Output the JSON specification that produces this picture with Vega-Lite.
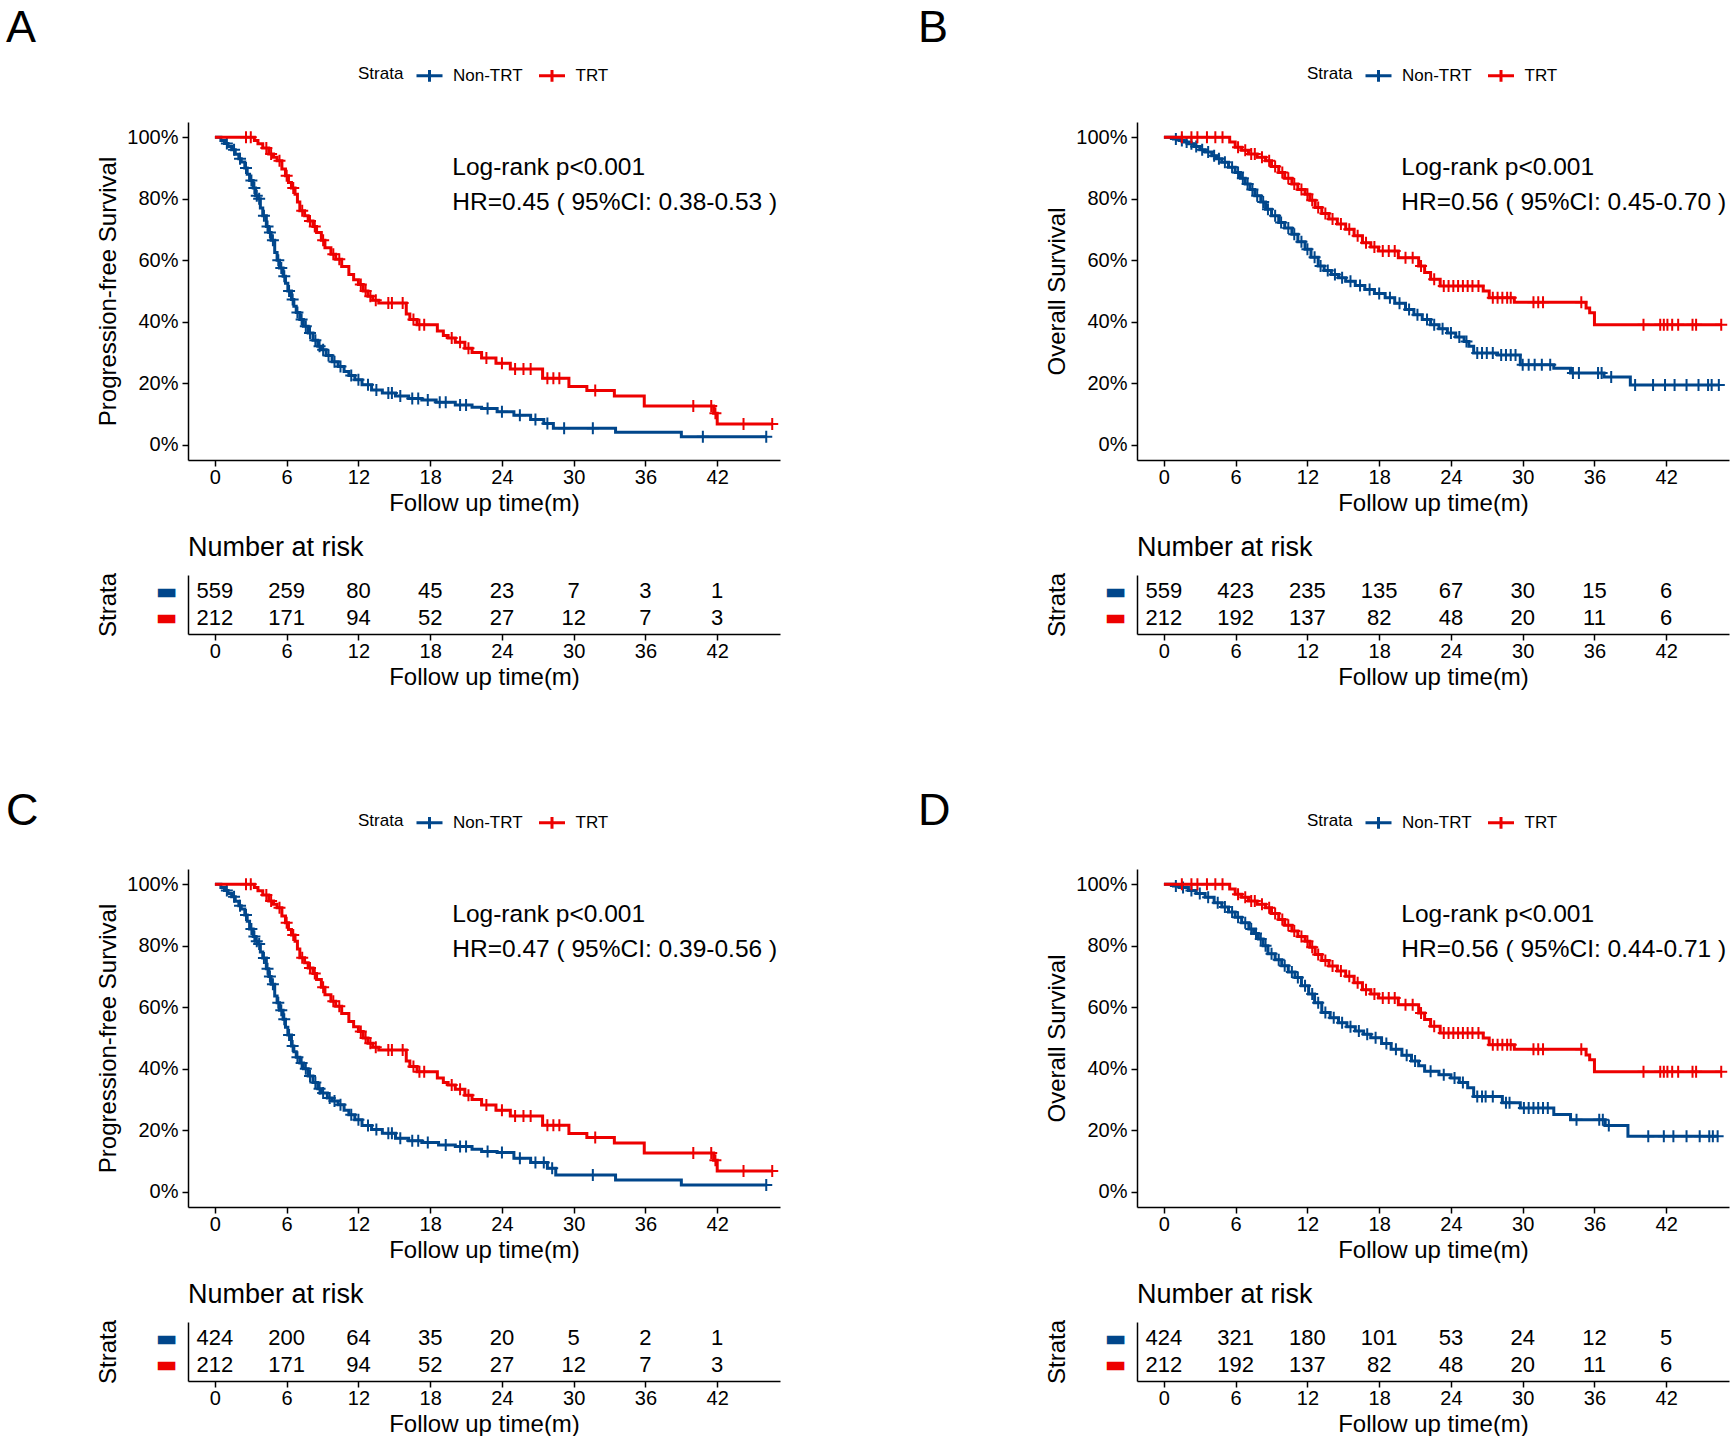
{
"$schema": "https://vega.github.io/schema/vega-lite/v6.json",
"padding": {"left": 6, "top": 6, "right": 0, "bottom": 0},
"autosize": {"type": "pad"},
"background": "white",
"config": {
 "view": {"stroke": null},
 "font": "Liberation Sans",
 "axis": {"domainColor": "#000", "domainWidth": 1.5, "tickColor": "#000", "tickWidth": 1.5, "tickSize": 6, "labelColor": "#000", "labelFontSize": 20, "labelFont": "Liberation Sans", "titleFont": "Liberation Sans", "titleFontSize": 24, "titleFontWeight": "normal", "titleColor": "#000", "grid": false, "labelPadding": 1},
 "axisX": {"titlePadding": 4},
 "axisY": {"titlePadding": 6.5, "labelPadding": 4},
 "legend": {"orient": "none", "legendX": 170, "legendY": -61, "direction": "horizontal", "titleOrient": "left", "titleAnchor": "middle", "titleBaseline": "middle", "titleFontSize": 17, "titleFontWeight": "normal", "titleColor": "#000", "labelFontSize": 17, "labelColor": "#000", "labelFont": "Liberation Sans", "titleFont": "Liberation Sans", "symbolSize": 676, "symbolStrokeWidth": 3, "labelOffset": 9, "columnPadding": 9.5, "titlePadding": 11},
 "title": {"fontWeight": "normal", "color": "#000", "font": "Liberation Sans"},
 "text": {"font": "Liberation Sans"}
},
"datasets": {
 "pfs_trt": [
  {"t":0,"s":1.0,"g":"TRT","c":0},{"t":2.6,"s":1.0,"g":"TRT","c":1},{"t":3.0,"s":1.0,"g":"TRT","c":1},{"t":3.3,"s":0.99,"g":"TRT","c":0},{"t":3.6,"s":0.979,"g":"TRT","c":0},{"t":4.0,"s":0.965,"g":"TRT","c":0},{"t":4.3,"s":0.965,"g":"TRT","c":1},{"t":4.5,"s":0.946,"g":"TRT","c":0},{"t":4.7,"s":0.946,"g":"TRT","c":1},{"t":4.9,"s":0.935,"g":"TRT","c":0},{"t":5.2,"s":0.924,"g":"TRT","c":0},{"t":5.4,"s":0.924,"g":"TRT","c":1},{"t":5.6,"s":0.897,"g":"TRT","c":0},{"t":5.9,"s":0.875,"g":"TRT","c":0},{"t":6.0,"s":0.875,"g":"TRT","c":1},{"t":6.15,"s":0.853,"g":"TRT","c":0},{"t":6.4,"s":0.835,"g":"TRT","c":0},{"t":6.55,"s":0.835,"g":"TRT","c":1},{"t":6.7,"s":0.815,"g":"TRT","c":0},{"t":6.9,"s":0.79,"g":"TRT","c":0},{"t":7.1,"s":0.761,"g":"TRT","c":0},{"t":7.3,"s":0.761,"g":"TRT","c":1},{"t":7.5,"s":0.745,"g":"TRT","c":0},{"t":7.8,"s":0.728,"g":"TRT","c":0},{"t":7.95,"s":0.728,"g":"TRT","c":1},{"t":8.2,"s":0.71,"g":"TRT","c":0},{"t":8.35,"s":0.71,"g":"TRT","c":1},{"t":8.5,"s":0.69,"g":"TRT","c":0},{"t":8.9,"s":0.665,"g":"TRT","c":0},{"t":9.05,"s":0.665,"g":"TRT","c":1},{"t":9.2,"s":0.641,"g":"TRT","c":0},{"t":9.7,"s":0.62,"g":"TRT","c":0},{"t":9.9,"s":0.62,"g":"TRT","c":1},{"t":10.1,"s":0.603,"g":"TRT","c":0},{"t":10.4,"s":0.603,"g":"TRT","c":1},{"t":10.6,"s":0.58,"g":"TRT","c":0},{"t":11.2,"s":0.554,"g":"TRT","c":0},{"t":11.6,"s":0.537,"g":"TRT","c":0},{"t":12.0,"s":0.521,"g":"TRT","c":0},{"t":12.2,"s":0.521,"g":"TRT","c":1},{"t":12.4,"s":0.5,"g":"TRT","c":0},{"t":12.6,"s":0.5,"g":"TRT","c":1},{"t":12.8,"s":0.483,"g":"TRT","c":0},{"t":13.0,"s":0.483,"g":"TRT","c":1},{"t":13.2,"s":0.47,"g":"TRT","c":0},{"t":13.45,"s":0.47,"g":"TRT","c":1},{"t":13.7,"s":0.461,"g":"TRT","c":0},{"t":14.5,"s":0.461,"g":"TRT","c":1},{"t":14.8,"s":0.461,"g":"TRT","c":1},{"t":15.7,"s":0.461,"g":"TRT","c":1},{"t":16.0,"s":0.425,"g":"TRT","c":0},{"t":16.3,"s":0.407,"g":"TRT","c":0},{"t":16.6,"s":0.407,"g":"TRT","c":1},{"t":16.9,"s":0.39,"g":"TRT","c":0},{"t":17.1,"s":0.39,"g":"TRT","c":1},{"t":17.5,"s":0.39,"g":"TRT","c":1},{"t":18.6,"s":0.37,"g":"TRT","c":0},{"t":19.1,"s":0.355,"g":"TRT","c":0},{"t":19.5,"s":0.347,"g":"TRT","c":0},{"t":19.8,"s":0.347,"g":"TRT","c":1},{"t":20.1,"s":0.333,"g":"TRT","c":0},{"t":20.5,"s":0.333,"g":"TRT","c":1},{"t":20.9,"s":0.314,"g":"TRT","c":0},{"t":21.2,"s":0.314,"g":"TRT","c":1},{"t":21.5,"s":0.3,"g":"TRT","c":0},{"t":22.3,"s":0.282,"g":"TRT","c":0},{"t":22.7,"s":0.282,"g":"TRT","c":1},{"t":23.5,"s":0.265,"g":"TRT","c":0},{"t":24.0,"s":0.265,"g":"TRT","c":1},{"t":24.7,"s":0.246,"g":"TRT","c":0},{"t":25.1,"s":0.246,"g":"TRT","c":1},{"t":25.8,"s":0.246,"g":"TRT","c":1},{"t":26.4,"s":0.246,"g":"TRT","c":1},{"t":27.4,"s":0.216,"g":"TRT","c":0},{"t":27.8,"s":0.216,"g":"TRT","c":1},{"t":28.3,"s":0.216,"g":"TRT","c":1},{"t":28.8,"s":0.216,"g":"TRT","c":1},{"t":29.6,"s":0.189,"g":"TRT","c":0},{"t":31.1,"s":0.176,"g":"TRT","c":0},{"t":31.8,"s":0.176,"g":"TRT","c":1},{"t":33.4,"s":0.158,"g":"TRT","c":0},{"t":35.9,"s":0.126,"g":"TRT","c":0},{"t":40.0,"s":0.126,"g":"TRT","c":1},{"t":41.5,"s":0.126,"g":"TRT","c":1},{"t":41.7,"s":0.102,"g":"TRT","c":0},{"t":41.85,"s":0.102,"g":"TRT","c":1},{"t":42.0,"s":0.067,"g":"TRT","c":0},{"t":44.2,"s":0.067,"g":"TRT","c":1},{"t":46.6,"s":0.067,"g":"TRT","c":1}
 ],
 "pfs_non_a": [
  {"t":0,"s":1.0,"g":"Non-TRT","c":0},{"t":0.5,"s":0.99,"g":"Non-TRT","c":0},{"t":0.8,"s":0.98,"g":"Non-TRT","c":0},{"t":1.0,"s":0.98,"g":"Non-TRT","c":1},{"t":1.1,"s":0.97,"g":"Non-TRT","c":0},{"t":1.4,"s":0.96,"g":"Non-TRT","c":0},{"t":1.6,"s":0.96,"g":"Non-TRT","c":1},{"t":1.7,"s":0.945,"g":"Non-TRT","c":0},{"t":2.0,"s":0.93,"g":"Non-TRT","c":0},{"t":2.1,"s":0.93,"g":"Non-TRT","c":1},{"t":2.2,"s":0.92,"g":"Non-TRT","c":0},{"t":2.5,"s":0.9,"g":"Non-TRT","c":0},{"t":2.6,"s":0.9,"g":"Non-TRT","c":1},{"t":2.7,"s":0.88,"g":"Non-TRT","c":0},{"t":2.9,"s":0.86,"g":"Non-TRT","c":0},{"t":3.05,"s":0.86,"g":"Non-TRT","c":1},{"t":3.2,"s":0.835,"g":"Non-TRT","c":0},{"t":3.3,"s":0.835,"g":"Non-TRT","c":1},{"t":3.4,"s":0.81,"g":"Non-TRT","c":0},{"t":3.5,"s":0.81,"g":"Non-TRT","c":1},{"t":3.6,"s":0.8,"g":"Non-TRT","c":0},{"t":3.7,"s":0.8,"g":"Non-TRT","c":1},{"t":3.8,"s":0.77,"g":"Non-TRT","c":0},{"t":4.0,"s":0.745,"g":"Non-TRT","c":0},{"t":4.1,"s":0.745,"g":"Non-TRT","c":1},{"t":4.3,"s":0.71,"g":"Non-TRT","c":0},{"t":4.4,"s":0.71,"g":"Non-TRT","c":1},{"t":4.5,"s":0.69,"g":"Non-TRT","c":0},{"t":4.6,"s":0.69,"g":"Non-TRT","c":1},{"t":4.7,"s":0.665,"g":"Non-TRT","c":0},{"t":4.85,"s":0.665,"g":"Non-TRT","c":1},{"t":5.0,"s":0.625,"g":"Non-TRT","c":0},{"t":5.2,"s":0.6,"g":"Non-TRT","c":0},{"t":5.3,"s":0.6,"g":"Non-TRT","c":1},{"t":5.4,"s":0.575,"g":"Non-TRT","c":0},{"t":5.55,"s":0.575,"g":"Non-TRT","c":1},{"t":5.7,"s":0.548,"g":"Non-TRT","c":0},{"t":5.8,"s":0.548,"g":"Non-TRT","c":1},{"t":5.9,"s":0.525,"g":"Non-TRT","c":0},{"t":6.1,"s":0.5,"g":"Non-TRT","c":0},{"t":6.2,"s":0.5,"g":"Non-TRT","c":1},{"t":6.4,"s":0.472,"g":"Non-TRT","c":0},{"t":6.5,"s":0.472,"g":"Non-TRT","c":1},{"t":6.6,"s":0.45,"g":"Non-TRT","c":0},{"t":6.8,"s":0.43,"g":"Non-TRT","c":0},{"t":6.9,"s":0.43,"g":"Non-TRT","c":1},{"t":7.1,"s":0.407,"g":"Non-TRT","c":0},{"t":7.25,"s":0.407,"g":"Non-TRT","c":1},{"t":7.4,"s":0.385,"g":"Non-TRT","c":0},{"t":7.6,"s":0.385,"g":"Non-TRT","c":1},{"t":7.8,"s":0.363,"g":"Non-TRT","c":0},{"t":7.95,"s":0.363,"g":"Non-TRT","c":1},{"t":8.2,"s":0.34,"g":"Non-TRT","c":0},{"t":8.4,"s":0.34,"g":"Non-TRT","c":1},{"t":8.6,"s":0.32,"g":"Non-TRT","c":0},{"t":8.75,"s":0.32,"g":"Non-TRT","c":1},{"t":8.9,"s":0.309,"g":"Non-TRT","c":0},{"t":9.05,"s":0.309,"g":"Non-TRT","c":1},{"t":9.3,"s":0.29,"g":"Non-TRT","c":0},{"t":9.5,"s":0.29,"g":"Non-TRT","c":1},{"t":9.8,"s":0.27,"g":"Non-TRT","c":0},{"t":10.0,"s":0.27,"g":"Non-TRT","c":1},{"t":10.3,"s":0.254,"g":"Non-TRT","c":0},{"t":10.5,"s":0.254,"g":"Non-TRT","c":1},{"t":10.8,"s":0.238,"g":"Non-TRT","c":0},{"t":11.2,"s":0.225,"g":"Non-TRT","c":0},{"t":11.4,"s":0.225,"g":"Non-TRT","c":1},{"t":11.7,"s":0.211,"g":"Non-TRT","c":0},{"t":12.0,"s":0.211,"g":"Non-TRT","c":1},{"t":12.3,"s":0.195,"g":"Non-TRT","c":0},{"t":12.8,"s":0.195,"g":"Non-TRT","c":1},{"t":13.1,"s":0.178,"g":"Non-TRT","c":0},{"t":13.5,"s":0.178,"g":"Non-TRT","c":1},{"t":14.0,"s":0.168,"g":"Non-TRT","c":0},{"t":14.5,"s":0.168,"g":"Non-TRT","c":1},{"t":14.8,"s":0.168,"g":"Non-TRT","c":1},{"t":15.1,"s":0.158,"g":"Non-TRT","c":0},{"t":15.5,"s":0.158,"g":"Non-TRT","c":1},{"t":16.2,"s":0.15,"g":"Non-TRT","c":0},{"t":16.5,"s":0.15,"g":"Non-TRT","c":1},{"t":17.0,"s":0.15,"g":"Non-TRT","c":1},{"t":17.3,"s":0.145,"g":"Non-TRT","c":0},{"t":17.8,"s":0.145,"g":"Non-TRT","c":1},{"t":18.5,"s":0.138,"g":"Non-TRT","c":0},{"t":18.8,"s":0.138,"g":"Non-TRT","c":1},{"t":19.3,"s":0.138,"g":"Non-TRT","c":1},{"t":20.1,"s":0.129,"g":"Non-TRT","c":0},{"t":20.5,"s":0.129,"g":"Non-TRT","c":1},{"t":21.0,"s":0.129,"g":"Non-TRT","c":1},{"t":21.5,"s":0.122,"g":"Non-TRT","c":0},{"t":22.3,"s":0.118,"g":"Non-TRT","c":0},{"t":22.8,"s":0.118,"g":"Non-TRT","c":1},{"t":23.6,"s":0.107,"g":"Non-TRT","c":0},{"t":24.0,"s":0.107,"g":"Non-TRT","c":1},{"t":25.0,"s":0.096,"g":"Non-TRT","c":0},{"t":25.5,"s":0.096,"g":"Non-TRT","c":1},{"t":26.4,"s":0.082,"g":"Non-TRT","c":0},{"t":26.8,"s":0.082,"g":"Non-TRT","c":1},{"t":27.5,"s":0.069,"g":"Non-TRT","c":0},{"t":27.8,"s":0.069,"g":"Non-TRT","c":1},{"t":28.3,"s":0.053,"g":"Non-TRT","c":0},{"t":29.2,"s":0.053,"g":"Non-TRT","c":1},{"t":31.6,"s":0.053,"g":"Non-TRT","c":1},{"t":33.5,"s":0.04,"g":"Non-TRT","c":0},{"t":39.0,"s":0.026,"g":"Non-TRT","c":0},{"t":40.8,"s":0.026,"g":"Non-TRT","c":1},{"t":46.1,"s":0.026,"g":"Non-TRT","c":1}
 ],
 "pfs_non_c": [
  {"t":0,"s":1.0,"g":"Non-TRT","c":0},{"t":0.5,"s":0.99,"g":"Non-TRT","c":0},{"t":0.8,"s":0.98,"g":"Non-TRT","c":0},{"t":1.0,"s":0.98,"g":"Non-TRT","c":1},{"t":1.1,"s":0.97,"g":"Non-TRT","c":0},{"t":1.4,"s":0.96,"g":"Non-TRT","c":0},{"t":1.6,"s":0.96,"g":"Non-TRT","c":1},{"t":1.7,"s":0.945,"g":"Non-TRT","c":0},{"t":2.0,"s":0.93,"g":"Non-TRT","c":0},{"t":2.1,"s":0.93,"g":"Non-TRT","c":1},{"t":2.2,"s":0.92,"g":"Non-TRT","c":0},{"t":2.5,"s":0.9,"g":"Non-TRT","c":0},{"t":2.6,"s":0.9,"g":"Non-TRT","c":1},{"t":2.7,"s":0.88,"g":"Non-TRT","c":0},{"t":2.9,"s":0.855,"g":"Non-TRT","c":0},{"t":3.05,"s":0.855,"g":"Non-TRT","c":1},{"t":3.2,"s":0.83,"g":"Non-TRT","c":0},{"t":3.3,"s":0.83,"g":"Non-TRT","c":1},{"t":3.4,"s":0.815,"g":"Non-TRT","c":0},{"t":3.5,"s":0.815,"g":"Non-TRT","c":1},{"t":3.6,"s":0.806,"g":"Non-TRT","c":0},{"t":3.7,"s":0.806,"g":"Non-TRT","c":1},{"t":3.8,"s":0.78,"g":"Non-TRT","c":0},{"t":4.0,"s":0.76,"g":"Non-TRT","c":0},{"t":4.1,"s":0.76,"g":"Non-TRT","c":1},{"t":4.3,"s":0.725,"g":"Non-TRT","c":0},{"t":4.4,"s":0.725,"g":"Non-TRT","c":1},{"t":4.5,"s":0.7,"g":"Non-TRT","c":0},{"t":4.6,"s":0.7,"g":"Non-TRT","c":1},{"t":4.7,"s":0.675,"g":"Non-TRT","c":0},{"t":4.85,"s":0.675,"g":"Non-TRT","c":1},{"t":5.0,"s":0.637,"g":"Non-TRT","c":0},{"t":5.2,"s":0.615,"g":"Non-TRT","c":0},{"t":5.3,"s":0.615,"g":"Non-TRT","c":1},{"t":5.4,"s":0.59,"g":"Non-TRT","c":0},{"t":5.55,"s":0.59,"g":"Non-TRT","c":1},{"t":5.7,"s":0.561,"g":"Non-TRT","c":0},{"t":5.8,"s":0.561,"g":"Non-TRT","c":1},{"t":5.9,"s":0.535,"g":"Non-TRT","c":0},{"t":6.1,"s":0.51,"g":"Non-TRT","c":0},{"t":6.2,"s":0.51,"g":"Non-TRT","c":1},{"t":6.4,"s":0.474,"g":"Non-TRT","c":0},{"t":6.5,"s":0.474,"g":"Non-TRT","c":1},{"t":6.6,"s":0.455,"g":"Non-TRT","c":0},{"t":6.8,"s":0.437,"g":"Non-TRT","c":0},{"t":6.9,"s":0.437,"g":"Non-TRT","c":1},{"t":7.1,"s":0.419,"g":"Non-TRT","c":0},{"t":7.25,"s":0.419,"g":"Non-TRT","c":1},{"t":7.4,"s":0.4,"g":"Non-TRT","c":0},{"t":7.6,"s":0.4,"g":"Non-TRT","c":1},{"t":7.8,"s":0.376,"g":"Non-TRT","c":0},{"t":7.95,"s":0.376,"g":"Non-TRT","c":1},{"t":8.2,"s":0.355,"g":"Non-TRT","c":0},{"t":8.4,"s":0.355,"g":"Non-TRT","c":1},{"t":8.6,"s":0.335,"g":"Non-TRT","c":0},{"t":8.75,"s":0.335,"g":"Non-TRT","c":1},{"t":8.9,"s":0.321,"g":"Non-TRT","c":0},{"t":9.05,"s":0.321,"g":"Non-TRT","c":1},{"t":9.4,"s":0.305,"g":"Non-TRT","c":0},{"t":9.6,"s":0.305,"g":"Non-TRT","c":1},{"t":9.8,"s":0.295,"g":"Non-TRT","c":0},{"t":10.0,"s":0.295,"g":"Non-TRT","c":1},{"t":10.3,"s":0.283,"g":"Non-TRT","c":0},{"t":10.5,"s":0.283,"g":"Non-TRT","c":1},{"t":10.8,"s":0.265,"g":"Non-TRT","c":0},{"t":11.2,"s":0.25,"g":"Non-TRT","c":0},{"t":11.4,"s":0.25,"g":"Non-TRT","c":1},{"t":11.7,"s":0.234,"g":"Non-TRT","c":0},{"t":12.0,"s":0.234,"g":"Non-TRT","c":1},{"t":12.3,"s":0.215,"g":"Non-TRT","c":0},{"t":12.8,"s":0.215,"g":"Non-TRT","c":1},{"t":13.1,"s":0.202,"g":"Non-TRT","c":0},{"t":13.5,"s":0.202,"g":"Non-TRT","c":1},{"t":14.0,"s":0.19,"g":"Non-TRT","c":0},{"t":14.5,"s":0.19,"g":"Non-TRT","c":1},{"t":14.8,"s":0.19,"g":"Non-TRT","c":1},{"t":15.1,"s":0.174,"g":"Non-TRT","c":0},{"t":15.5,"s":0.174,"g":"Non-TRT","c":1},{"t":16.2,"s":0.166,"g":"Non-TRT","c":0},{"t":16.5,"s":0.166,"g":"Non-TRT","c":1},{"t":17.0,"s":0.166,"g":"Non-TRT","c":1},{"t":17.3,"s":0.16,"g":"Non-TRT","c":0},{"t":17.8,"s":0.16,"g":"Non-TRT","c":1},{"t":18.7,"s":0.152,"g":"Non-TRT","c":0},{"t":19.3,"s":0.152,"g":"Non-TRT","c":1},{"t":20.1,"s":0.147,"g":"Non-TRT","c":0},{"t":20.5,"s":0.147,"g":"Non-TRT","c":1},{"t":21.0,"s":0.147,"g":"Non-TRT","c":1},{"t":21.5,"s":0.138,"g":"Non-TRT","c":0},{"t":22.3,"s":0.131,"g":"Non-TRT","c":0},{"t":22.8,"s":0.131,"g":"Non-TRT","c":1},{"t":23.6,"s":0.127,"g":"Non-TRT","c":0},{"t":24.0,"s":0.127,"g":"Non-TRT","c":1},{"t":25.0,"s":0.109,"g":"Non-TRT","c":0},{"t":25.5,"s":0.109,"g":"Non-TRT","c":1},{"t":26.4,"s":0.095,"g":"Non-TRT","c":0},{"t":26.8,"s":0.095,"g":"Non-TRT","c":1},{"t":27.5,"s":0.095,"g":"Non-TRT","c":1},{"t":27.8,"s":0.076,"g":"Non-TRT","c":0},{"t":28.2,"s":0.076,"g":"Non-TRT","c":1},{"t":28.5,"s":0.054,"g":"Non-TRT","c":0},{"t":31.6,"s":0.054,"g":"Non-TRT","c":1},{"t":33.5,"s":0.038,"g":"Non-TRT","c":0},{"t":39.0,"s":0.022,"g":"Non-TRT","c":0},{"t":46.1,"s":0.022,"g":"Non-TRT","c":1}
 ],
 "os_trt": [
  {"t":0,"s":1.0,"g":"TRT","c":0},{"t":1.5,"s":1.0,"g":"TRT","c":1},{"t":2.3,"s":1.0,"g":"TRT","c":1},{"t":2.8,"s":1.0,"g":"TRT","c":1},{"t":3.6,"s":1.0,"g":"TRT","c":1},{"t":4.3,"s":1.0,"g":"TRT","c":1},{"t":4.9,"s":1.0,"g":"TRT","c":1},{"t":5.5,"s":0.985,"g":"TRT","c":0},{"t":5.96,"s":0.968,"g":"TRT","c":0},{"t":6.2,"s":0.968,"g":"TRT","c":1},{"t":6.5,"s":0.958,"g":"TRT","c":0},{"t":6.8,"s":0.958,"g":"TRT","c":1},{"t":7.07,"s":0.946,"g":"TRT","c":0},{"t":7.3,"s":0.946,"g":"TRT","c":1},{"t":7.6,"s":0.946,"g":"TRT","c":1},{"t":7.8,"s":0.935,"g":"TRT","c":0},{"t":8.2,"s":0.935,"g":"TRT","c":1},{"t":8.5,"s":0.924,"g":"TRT","c":0},{"t":8.8,"s":0.924,"g":"TRT","c":1},{"t":9.0,"s":0.905,"g":"TRT","c":0},{"t":9.3,"s":0.905,"g":"TRT","c":1},{"t":9.6,"s":0.886,"g":"TRT","c":0},{"t":9.9,"s":0.886,"g":"TRT","c":1},{"t":10.1,"s":0.867,"g":"TRT","c":0},{"t":10.4,"s":0.867,"g":"TRT","c":1},{"t":10.7,"s":0.848,"g":"TRT","c":0},{"t":10.9,"s":0.848,"g":"TRT","c":1},{"t":11.2,"s":0.83,"g":"TRT","c":0},{"t":11.5,"s":0.83,"g":"TRT","c":1},{"t":11.8,"s":0.815,"g":"TRT","c":0},{"t":12.0,"s":0.815,"g":"TRT","c":1},{"t":12.2,"s":0.795,"g":"TRT","c":0},{"t":12.4,"s":0.795,"g":"TRT","c":1},{"t":12.65,"s":0.772,"g":"TRT","c":0},{"t":12.9,"s":0.772,"g":"TRT","c":1},{"t":13.2,"s":0.752,"g":"TRT","c":0},{"t":13.5,"s":0.752,"g":"TRT","c":1},{"t":13.8,"s":0.734,"g":"TRT","c":0},{"t":14.1,"s":0.734,"g":"TRT","c":1},{"t":14.5,"s":0.718,"g":"TRT","c":0},{"t":14.8,"s":0.718,"g":"TRT","c":1},{"t":15.2,"s":0.701,"g":"TRT","c":0},{"t":15.5,"s":0.701,"g":"TRT","c":1},{"t":15.9,"s":0.68,"g":"TRT","c":0},{"t":16.2,"s":0.68,"g":"TRT","c":1},{"t":16.6,"s":0.657,"g":"TRT","c":0},{"t":16.9,"s":0.657,"g":"TRT","c":1},{"t":17.3,"s":0.643,"g":"TRT","c":0},{"t":17.6,"s":0.643,"g":"TRT","c":1},{"t":17.95,"s":0.63,"g":"TRT","c":0},{"t":18.3,"s":0.63,"g":"TRT","c":1},{"t":18.8,"s":0.63,"g":"TRT","c":1},{"t":19.3,"s":0.63,"g":"TRT","c":1},{"t":19.6,"s":0.608,"g":"TRT","c":0},{"t":20.2,"s":0.608,"g":"TRT","c":1},{"t":20.8,"s":0.608,"g":"TRT","c":1},{"t":21.3,"s":0.581,"g":"TRT","c":0},{"t":21.5,"s":0.581,"g":"TRT","c":1},{"t":21.8,"s":0.56,"g":"TRT","c":0},{"t":22.3,"s":0.538,"g":"TRT","c":0},{"t":22.6,"s":0.538,"g":"TRT","c":1},{"t":23.1,"s":0.516,"g":"TRT","c":0},{"t":23.4,"s":0.516,"g":"TRT","c":1},{"t":23.8,"s":0.516,"g":"TRT","c":1},{"t":24.2,"s":0.516,"g":"TRT","c":1},{"t":24.6,"s":0.516,"g":"TRT","c":1},{"t":25.0,"s":0.516,"g":"TRT","c":1},{"t":25.4,"s":0.516,"g":"TRT","c":1},{"t":25.8,"s":0.516,"g":"TRT","c":1},{"t":26.3,"s":0.516,"g":"TRT","c":1},{"t":26.7,"s":0.5,"g":"TRT","c":0},{"t":27.2,"s":0.478,"g":"TRT","c":0},{"t":27.5,"s":0.478,"g":"TRT","c":1},{"t":27.9,"s":0.478,"g":"TRT","c":1},{"t":28.3,"s":0.478,"g":"TRT","c":1},{"t":28.7,"s":0.478,"g":"TRT","c":1},{"t":29.0,"s":0.478,"g":"TRT","c":1},{"t":29.3,"s":0.463,"g":"TRT","c":0},{"t":30.9,"s":0.463,"g":"TRT","c":1},{"t":31.3,"s":0.463,"g":"TRT","c":1},{"t":31.7,"s":0.463,"g":"TRT","c":1},{"t":34.9,"s":0.463,"g":"TRT","c":1},{"t":35.3,"s":0.445,"g":"TRT","c":0},{"t":35.6,"s":0.429,"g":"TRT","c":0},{"t":36.0,"s":0.39,"g":"TRT","c":0},{"t":40.1,"s":0.39,"g":"TRT","c":1},{"t":41.5,"s":0.39,"g":"TRT","c":1},{"t":41.8,"s":0.39,"g":"TRT","c":1},{"t":42.1,"s":0.39,"g":"TRT","c":1},{"t":42.5,"s":0.39,"g":"TRT","c":1},{"t":43.0,"s":0.39,"g":"TRT","c":1},{"t":44.2,"s":0.39,"g":"TRT","c":1},{"t":44.5,"s":0.39,"g":"TRT","c":1},{"t":46.6,"s":0.39,"g":"TRT","c":1}
 ],
 "os_non_b": [
  {"t":0,"s":1.0,"g":"Non-TRT","c":0},{"t":0.8,"s":0.995,"g":"Non-TRT","c":0},{"t":1.0,"s":0.995,"g":"Non-TRT","c":1},{"t":1.3,"s":0.99,"g":"Non-TRT","c":0},{"t":1.5,"s":0.99,"g":"Non-TRT","c":1},{"t":1.7,"s":0.985,"g":"Non-TRT","c":0},{"t":1.9,"s":0.985,"g":"Non-TRT","c":1},{"t":2.05,"s":0.979,"g":"Non-TRT","c":0},{"t":2.3,"s":0.979,"g":"Non-TRT","c":1},{"t":2.5,"s":0.97,"g":"Non-TRT","c":0},{"t":2.7,"s":0.97,"g":"Non-TRT","c":1},{"t":3.0,"s":0.96,"g":"Non-TRT","c":0},{"t":3.2,"s":0.96,"g":"Non-TRT","c":1},{"t":3.45,"s":0.952,"g":"Non-TRT","c":0},{"t":3.7,"s":0.952,"g":"Non-TRT","c":1},{"t":4.0,"s":0.94,"g":"Non-TRT","c":0},{"t":4.2,"s":0.94,"g":"Non-TRT","c":1},{"t":4.4,"s":0.93,"g":"Non-TRT","c":0},{"t":4.6,"s":0.93,"g":"Non-TRT","c":1},{"t":4.84,"s":0.919,"g":"Non-TRT","c":0},{"t":5.1,"s":0.919,"g":"Non-TRT","c":1},{"t":5.4,"s":0.903,"g":"Non-TRT","c":0},{"t":5.7,"s":0.903,"g":"Non-TRT","c":1},{"t":5.96,"s":0.886,"g":"Non-TRT","c":0},{"t":6.2,"s":0.886,"g":"Non-TRT","c":1},{"t":6.4,"s":0.867,"g":"Non-TRT","c":0},{"t":6.6,"s":0.867,"g":"Non-TRT","c":1},{"t":6.8,"s":0.848,"g":"Non-TRT","c":0},{"t":7.0,"s":0.848,"g":"Non-TRT","c":1},{"t":7.2,"s":0.83,"g":"Non-TRT","c":0},{"t":7.4,"s":0.83,"g":"Non-TRT","c":1},{"t":7.6,"s":0.81,"g":"Non-TRT","c":0},{"t":7.8,"s":0.81,"g":"Non-TRT","c":1},{"t":8.1,"s":0.79,"g":"Non-TRT","c":0},{"t":8.3,"s":0.79,"g":"Non-TRT","c":1},{"t":8.5,"s":0.766,"g":"Non-TRT","c":0},{"t":8.7,"s":0.766,"g":"Non-TRT","c":1},{"t":9.0,"s":0.745,"g":"Non-TRT","c":0},{"t":9.3,"s":0.745,"g":"Non-TRT","c":1},{"t":9.6,"s":0.723,"g":"Non-TRT","c":0},{"t":9.8,"s":0.723,"g":"Non-TRT","c":1},{"t":10.1,"s":0.705,"g":"Non-TRT","c":0},{"t":10.4,"s":0.705,"g":"Non-TRT","c":1},{"t":10.7,"s":0.685,"g":"Non-TRT","c":0},{"t":10.9,"s":0.685,"g":"Non-TRT","c":1},{"t":11.2,"s":0.66,"g":"Non-TRT","c":0},{"t":11.5,"s":0.66,"g":"Non-TRT","c":1},{"t":11.8,"s":0.636,"g":"Non-TRT","c":0},{"t":12.0,"s":0.636,"g":"Non-TRT","c":1},{"t":12.3,"s":0.61,"g":"Non-TRT","c":0},{"t":12.6,"s":0.61,"g":"Non-TRT","c":1},{"t":12.9,"s":0.581,"g":"Non-TRT","c":0},{"t":13.1,"s":0.581,"g":"Non-TRT","c":1},{"t":13.4,"s":0.567,"g":"Non-TRT","c":0},{"t":13.7,"s":0.567,"g":"Non-TRT","c":1},{"t":14.0,"s":0.554,"g":"Non-TRT","c":0},{"t":14.3,"s":0.554,"g":"Non-TRT","c":1},{"t":14.6,"s":0.543,"g":"Non-TRT","c":0},{"t":14.9,"s":0.543,"g":"Non-TRT","c":1},{"t":15.2,"s":0.532,"g":"Non-TRT","c":0},{"t":15.6,"s":0.532,"g":"Non-TRT","c":1},{"t":16.0,"s":0.518,"g":"Non-TRT","c":0},{"t":16.4,"s":0.518,"g":"Non-TRT","c":1},{"t":16.8,"s":0.505,"g":"Non-TRT","c":0},{"t":17.2,"s":0.505,"g":"Non-TRT","c":1},{"t":17.6,"s":0.492,"g":"Non-TRT","c":0},{"t":18.0,"s":0.492,"g":"Non-TRT","c":1},{"t":18.5,"s":0.478,"g":"Non-TRT","c":0},{"t":18.9,"s":0.478,"g":"Non-TRT","c":1},{"t":19.3,"s":0.46,"g":"Non-TRT","c":0},{"t":19.7,"s":0.46,"g":"Non-TRT","c":1},{"t":20.2,"s":0.44,"g":"Non-TRT","c":0},{"t":20.5,"s":0.44,"g":"Non-TRT","c":1},{"t":20.9,"s":0.423,"g":"Non-TRT","c":0},{"t":21.2,"s":0.423,"g":"Non-TRT","c":1},{"t":21.6,"s":0.407,"g":"Non-TRT","c":0},{"t":22.0,"s":0.407,"g":"Non-TRT","c":1},{"t":22.3,"s":0.39,"g":"Non-TRT","c":0},{"t":22.6,"s":0.39,"g":"Non-TRT","c":1},{"t":23.0,"s":0.377,"g":"Non-TRT","c":0},{"t":23.3,"s":0.377,"g":"Non-TRT","c":1},{"t":23.7,"s":0.363,"g":"Non-TRT","c":0},{"t":24.0,"s":0.363,"g":"Non-TRT","c":1},{"t":24.4,"s":0.35,"g":"Non-TRT","c":0},{"t":24.7,"s":0.35,"g":"Non-TRT","c":1},{"t":25.1,"s":0.336,"g":"Non-TRT","c":0},{"t":25.3,"s":0.336,"g":"Non-TRT","c":1},{"t":25.5,"s":0.32,"g":"Non-TRT","c":0},{"t":25.9,"s":0.298,"g":"Non-TRT","c":0},{"t":26.2,"s":0.298,"g":"Non-TRT","c":1},{"t":26.6,"s":0.298,"g":"Non-TRT","c":1},{"t":27.0,"s":0.298,"g":"Non-TRT","c":1},{"t":27.5,"s":0.298,"g":"Non-TRT","c":1},{"t":27.9,"s":0.292,"g":"Non-TRT","c":0},{"t":28.2,"s":0.292,"g":"Non-TRT","c":1},{"t":28.6,"s":0.292,"g":"Non-TRT","c":1},{"t":29.0,"s":0.292,"g":"Non-TRT","c":1},{"t":29.4,"s":0.292,"g":"Non-TRT","c":1},{"t":29.8,"s":0.26,"g":"Non-TRT","c":0},{"t":30.0,"s":0.26,"g":"Non-TRT","c":1},{"t":30.5,"s":0.26,"g":"Non-TRT","c":1},{"t":31.0,"s":0.26,"g":"Non-TRT","c":1},{"t":31.6,"s":0.26,"g":"Non-TRT","c":1},{"t":32.3,"s":0.26,"g":"Non-TRT","c":1},{"t":32.6,"s":0.249,"g":"Non-TRT","c":0},{"t":34.0,"s":0.233,"g":"Non-TRT","c":0},{"t":34.2,"s":0.233,"g":"Non-TRT","c":1},{"t":34.7,"s":0.233,"g":"Non-TRT","c":1},{"t":36.3,"s":0.233,"g":"Non-TRT","c":1},{"t":36.6,"s":0.233,"g":"Non-TRT","c":1},{"t":36.8,"s":0.22,"g":"Non-TRT","c":0},{"t":37.4,"s":0.22,"g":"Non-TRT","c":1},{"t":39.0,"s":0.194,"g":"Non-TRT","c":0},{"t":39.4,"s":0.194,"g":"Non-TRT","c":1},{"t":40.9,"s":0.194,"g":"Non-TRT","c":1},{"t":41.9,"s":0.194,"g":"Non-TRT","c":1},{"t":42.7,"s":0.194,"g":"Non-TRT","c":1},{"t":43.7,"s":0.194,"g":"Non-TRT","c":1},{"t":44.7,"s":0.194,"g":"Non-TRT","c":1},{"t":45.5,"s":0.194,"g":"Non-TRT","c":1},{"t":45.8,"s":0.194,"g":"Non-TRT","c":1},{"t":46.4,"s":0.194,"g":"Non-TRT","c":1}
 ],
 "os_non_d": [
  {"t":0,"s":1.0,"g":"Non-TRT","c":0},{"t":0.8,"s":0.995,"g":"Non-TRT","c":0},{"t":1.0,"s":0.995,"g":"Non-TRT","c":1},{"t":1.3,"s":0.99,"g":"Non-TRT","c":0},{"t":1.6,"s":0.99,"g":"Non-TRT","c":1},{"t":2.05,"s":0.98,"g":"Non-TRT","c":0},{"t":2.3,"s":0.98,"g":"Non-TRT","c":1},{"t":2.7,"s":0.97,"g":"Non-TRT","c":0},{"t":3.0,"s":0.97,"g":"Non-TRT","c":1},{"t":3.45,"s":0.958,"g":"Non-TRT","c":0},{"t":3.7,"s":0.958,"g":"Non-TRT","c":1},{"t":4.2,"s":0.94,"g":"Non-TRT","c":0},{"t":4.5,"s":0.94,"g":"Non-TRT","c":1},{"t":4.84,"s":0.926,"g":"Non-TRT","c":0},{"t":5.1,"s":0.926,"g":"Non-TRT","c":1},{"t":5.4,"s":0.91,"g":"Non-TRT","c":0},{"t":5.7,"s":0.91,"g":"Non-TRT","c":1},{"t":5.96,"s":0.893,"g":"Non-TRT","c":0},{"t":6.2,"s":0.893,"g":"Non-TRT","c":1},{"t":6.5,"s":0.875,"g":"Non-TRT","c":0},{"t":6.8,"s":0.875,"g":"Non-TRT","c":1},{"t":7.1,"s":0.855,"g":"Non-TRT","c":0},{"t":7.3,"s":0.855,"g":"Non-TRT","c":1},{"t":7.5,"s":0.84,"g":"Non-TRT","c":0},{"t":7.7,"s":0.84,"g":"Non-TRT","c":1},{"t":7.9,"s":0.822,"g":"Non-TRT","c":0},{"t":8.1,"s":0.822,"g":"Non-TRT","c":1},{"t":8.3,"s":0.8,"g":"Non-TRT","c":0},{"t":8.5,"s":0.8,"g":"Non-TRT","c":1},{"t":8.7,"s":0.774,"g":"Non-TRT","c":0},{"t":9.0,"s":0.774,"g":"Non-TRT","c":1},{"t":9.3,"s":0.755,"g":"Non-TRT","c":0},{"t":9.6,"s":0.755,"g":"Non-TRT","c":1},{"t":9.85,"s":0.735,"g":"Non-TRT","c":0},{"t":10.1,"s":0.735,"g":"Non-TRT","c":1},{"t":10.4,"s":0.715,"g":"Non-TRT","c":0},{"t":10.7,"s":0.715,"g":"Non-TRT","c":1},{"t":10.96,"s":0.697,"g":"Non-TRT","c":0},{"t":11.2,"s":0.697,"g":"Non-TRT","c":1},{"t":11.5,"s":0.67,"g":"Non-TRT","c":0},{"t":11.8,"s":0.67,"g":"Non-TRT","c":1},{"t":12.1,"s":0.643,"g":"Non-TRT","c":0},{"t":12.4,"s":0.643,"g":"Non-TRT","c":1},{"t":12.6,"s":0.615,"g":"Non-TRT","c":0},{"t":12.9,"s":0.615,"g":"Non-TRT","c":1},{"t":13.2,"s":0.583,"g":"Non-TRT","c":0},{"t":13.5,"s":0.583,"g":"Non-TRT","c":1},{"t":13.9,"s":0.566,"g":"Non-TRT","c":0},{"t":14.2,"s":0.566,"g":"Non-TRT","c":1},{"t":14.6,"s":0.55,"g":"Non-TRT","c":0},{"t":14.9,"s":0.55,"g":"Non-TRT","c":1},{"t":15.3,"s":0.537,"g":"Non-TRT","c":0},{"t":15.6,"s":0.537,"g":"Non-TRT","c":1},{"t":16.0,"s":0.523,"g":"Non-TRT","c":0},{"t":16.3,"s":0.523,"g":"Non-TRT","c":1},{"t":16.7,"s":0.512,"g":"Non-TRT","c":0},{"t":17.0,"s":0.512,"g":"Non-TRT","c":1},{"t":17.3,"s":0.501,"g":"Non-TRT","c":0},{"t":17.7,"s":0.501,"g":"Non-TRT","c":1},{"t":18.2,"s":0.482,"g":"Non-TRT","c":0},{"t":18.6,"s":0.482,"g":"Non-TRT","c":1},{"t":19.0,"s":0.463,"g":"Non-TRT","c":0},{"t":19.4,"s":0.463,"g":"Non-TRT","c":1},{"t":19.9,"s":0.444,"g":"Non-TRT","c":0},{"t":20.3,"s":0.444,"g":"Non-TRT","c":1},{"t":20.7,"s":0.425,"g":"Non-TRT","c":0},{"t":21.0,"s":0.425,"g":"Non-TRT","c":1},{"t":21.3,"s":0.41,"g":"Non-TRT","c":0},{"t":21.8,"s":0.392,"g":"Non-TRT","c":0},{"t":22.3,"s":0.392,"g":"Non-TRT","c":1},{"t":23.0,"s":0.38,"g":"Non-TRT","c":0},{"t":23.4,"s":0.38,"g":"Non-TRT","c":1},{"t":24.0,"s":0.37,"g":"Non-TRT","c":0},{"t":24.3,"s":0.37,"g":"Non-TRT","c":1},{"t":24.7,"s":0.355,"g":"Non-TRT","c":0},{"t":25.0,"s":0.355,"g":"Non-TRT","c":1},{"t":25.4,"s":0.338,"g":"Non-TRT","c":0},{"t":25.9,"s":0.31,"g":"Non-TRT","c":0},{"t":26.2,"s":0.31,"g":"Non-TRT","c":1},{"t":26.6,"s":0.31,"g":"Non-TRT","c":1},{"t":26.9,"s":0.31,"g":"Non-TRT","c":1},{"t":27.5,"s":0.31,"g":"Non-TRT","c":1},{"t":28.3,"s":0.289,"g":"Non-TRT","c":0},{"t":28.6,"s":0.289,"g":"Non-TRT","c":1},{"t":28.9,"s":0.289,"g":"Non-TRT","c":1},{"t":29.8,"s":0.272,"g":"Non-TRT","c":0},{"t":30.1,"s":0.272,"g":"Non-TRT","c":1},{"t":30.5,"s":0.272,"g":"Non-TRT","c":1},{"t":30.9,"s":0.272,"g":"Non-TRT","c":1},{"t":31.3,"s":0.272,"g":"Non-TRT","c":1},{"t":31.7,"s":0.272,"g":"Non-TRT","c":1},{"t":32.1,"s":0.272,"g":"Non-TRT","c":1},{"t":32.6,"s":0.251,"g":"Non-TRT","c":0},{"t":34.0,"s":0.234,"g":"Non-TRT","c":0},{"t":34.5,"s":0.234,"g":"Non-TRT","c":1},{"t":36.4,"s":0.234,"g":"Non-TRT","c":1},{"t":36.7,"s":0.234,"g":"Non-TRT","c":1},{"t":36.9,"s":0.215,"g":"Non-TRT","c":0},{"t":37.2,"s":0.215,"g":"Non-TRT","c":1},{"t":38.8,"s":0.18,"g":"Non-TRT","c":0},{"t":40.5,"s":0.18,"g":"Non-TRT","c":1},{"t":41.8,"s":0.18,"g":"Non-TRT","c":1},{"t":42.6,"s":0.18,"g":"Non-TRT","c":1},{"t":43.7,"s":0.18,"g":"Non-TRT","c":1},{"t":44.8,"s":0.18,"g":"Non-TRT","c":1},{"t":45.6,"s":0.18,"g":"Non-TRT","c":1},{"t":45.9,"s":0.18,"g":"Non-TRT","c":1},{"t":46.3,"s":0.18,"g":"Non-TRT","c":1}
 ],
 "risk_a": [
  {"t":0,"g":"Non-TRT","n":559},{"t":6,"g":"Non-TRT","n":259},{"t":12,"g":"Non-TRT","n":80},{"t":18,"g":"Non-TRT","n":45},{"t":24,"g":"Non-TRT","n":23},{"t":30,"g":"Non-TRT","n":7},{"t":36,"g":"Non-TRT","n":3},{"t":42,"g":"Non-TRT","n":1},
  {"t":0,"g":"TRT","n":212},{"t":6,"g":"TRT","n":171},{"t":12,"g":"TRT","n":94},{"t":18,"g":"TRT","n":52},{"t":24,"g":"TRT","n":27},{"t":30,"g":"TRT","n":12},{"t":36,"g":"TRT","n":7},{"t":42,"g":"TRT","n":3}
 ],
 "risk_b": [
  {"t":0,"g":"Non-TRT","n":559},{"t":6,"g":"Non-TRT","n":423},{"t":12,"g":"Non-TRT","n":235},{"t":18,"g":"Non-TRT","n":135},{"t":24,"g":"Non-TRT","n":67},{"t":30,"g":"Non-TRT","n":30},{"t":36,"g":"Non-TRT","n":15},{"t":42,"g":"Non-TRT","n":6},
  {"t":0,"g":"TRT","n":212},{"t":6,"g":"TRT","n":192},{"t":12,"g":"TRT","n":137},{"t":18,"g":"TRT","n":82},{"t":24,"g":"TRT","n":48},{"t":30,"g":"TRT","n":20},{"t":36,"g":"TRT","n":11},{"t":42,"g":"TRT","n":6}
 ],
 "risk_c": [
  {"t":0,"g":"Non-TRT","n":424},{"t":6,"g":"Non-TRT","n":200},{"t":12,"g":"Non-TRT","n":64},{"t":18,"g":"Non-TRT","n":35},{"t":24,"g":"Non-TRT","n":20},{"t":30,"g":"Non-TRT","n":5},{"t":36,"g":"Non-TRT","n":2},{"t":42,"g":"Non-TRT","n":1},
  {"t":0,"g":"TRT","n":212},{"t":6,"g":"TRT","n":171},{"t":12,"g":"TRT","n":94},{"t":18,"g":"TRT","n":52},{"t":24,"g":"TRT","n":27},{"t":30,"g":"TRT","n":12},{"t":36,"g":"TRT","n":7},{"t":42,"g":"TRT","n":3}
 ],
 "risk_d": [
  {"t":0,"g":"Non-TRT","n":424},{"t":6,"g":"Non-TRT","n":321},{"t":12,"g":"Non-TRT","n":180},{"t":18,"g":"Non-TRT","n":101},{"t":24,"g":"Non-TRT","n":53},{"t":30,"g":"Non-TRT","n":24},{"t":36,"g":"Non-TRT","n":12},{"t":42,"g":"Non-TRT","n":5},
  {"t":0,"g":"TRT","n":212},{"t":6,"g":"TRT","n":192},{"t":12,"g":"TRT","n":137},{"t":18,"g":"TRT","n":82},{"t":24,"g":"TRT","n":48},{"t":30,"g":"TRT","n":20},{"t":36,"g":"TRT","n":11},{"t":42,"g":"TRT","n":6}
 ]
},
"resolve": {"scale": {"color": "independent", "x": "independent", "y": "independent"}, "legend": {"color": "independent"}, "axis": {"x": "independent", "y": "independent"}},
"spacing": 100,
"vconcat": [
 {"hconcat": [
  {"vconcat": [
   {"width": 592, "height": 338,
    "title": {"text": "A", "anchor": "start", "frame": "group", "dx": -182, "fontSize": 45, "offset": 10},
    "encoding": {
     "x": {"field": "t", "type": "quantitative", "scale": {"domain": [-2.25, 47.25], "nice": false, "zero": false}, "axis": {"values": [0,6,12,18,24,30,36,42], "title": "Follow up time(m)"}},
     "y": {"field": "s", "type": "quantitative", "scale": {"domain": [-0.05, 1.05], "nice": false, "zero": false}, "axis": {"values": [0,0.2,0.4,0.6,0.8,1], "format": ".0%", "title": "Progression-free Survival"}},
     "color": {"field": "g", "type": "nominal", "title": "Strata", "scale": {"domain": ["Non-TRT","TRT"], "range": ["#00468B","#ED0000"]}, "legend": {"symbolType": "M -1 0 L 1 0 M 0 -0.45 L 0 0.45"}}
    },
    "layer": [
     {"data": {"name": "pfs_non_a"}, "mark": {"type": "line", "interpolate": "step-after", "strokeWidth": 3}},
     {"data": {"name": "pfs_non_a"}, "transform": [{"filter": "datum.c == 1"}], "mark": {"type": "point", "shape": "M -1 0 L 1 0 M 0 -1 L 0 1", "size": 144, "strokeWidth": 2, "filled": false, "opacity": 1}},
     {"data": {"name": "pfs_trt"}, "mark": {"type": "line", "interpolate": "step-after", "strokeWidth": 3}},
     {"data": {"name": "pfs_trt"}, "transform": [{"filter": "datum.c == 1"}], "mark": {"type": "point", "shape": "M -1 0 L 1 0 M 0 -1 L 0 1", "size": 144, "strokeWidth": 2, "filled": false, "opacity": 1}},
     {"data": {"values": [{"t": 19.85, "s": 0.9, "label": "Log-rank p<0.001"}, {"t": 19.85, "s": 0.786, "label": "HR=0.45 ( 95%CI: 0.38-0.53 )"}]}, "mark": {"type": "text", "align": "left", "baseline": "middle", "fontSize": 24.5}, "encoding": {"text": {"field": "label"}, "color": {"value": "#000"}}}
    ]
   },
   {"width": 592, "height": 59,
    "title": {"text": "Number at risk", "anchor": "start", "frame": "group", "fontSize": 27, "offset": 10},
    "data": {"name": "risk_a"},
    "mark": {"type": "text", "fontSize": 22, "baseline": "middle", "color": "#000"},
    "encoding": {
     "x": {"field": "t", "type": "quantitative", "scale": {"domain": [-2.25, 47.25], "nice": false, "zero": false}, "axis": {"values": [0,6,12,18,24,30,36,42], "title": "Follow up time(m)"}},
     "y": {"field": "g", "type": "nominal", "scale": {"type": "point", "domain": ["Non-TRT","TRT"], "padding": 0.6}, "axis": {"ticks": false, "labelExpr": "'▬'", "labelFont": "DejaVu Sans", "labelFontSize": 23, "labelFontWeight": "bold", "labelPadding": 11, "labelColor": {"condition": {"test": "datum.value === 'TRT'", "value": "#ED0000"}, "value": "#00468B"}, "title": "Strata", "titlePadding": 35}},
     "text": {"field": "n", "type": "nominal"}
    }
   }
  ], "spacing": 19, "resolve": {"scale": {"color": "independent", "x": "independent", "y": "independent"}, "legend": {"color": "independent"}, "axis": {"x": "independent", "y": "independent"}}},
  {"vconcat": [
   {"width": 592, "height": 338,
    "title": {"text": "B", "anchor": "start", "frame": "group", "dx": -219, "fontSize": 45, "offset": 10},
    "encoding": {
     "x": {"field": "t", "type": "quantitative", "scale": {"domain": [-2.25, 47.25], "nice": false, "zero": false}, "axis": {"values": [0,6,12,18,24,30,36,42], "title": "Follow up time(m)"}},
     "y": {"field": "s", "type": "quantitative", "scale": {"domain": [-0.05, 1.05], "nice": false, "zero": false}, "axis": {"values": [0,0.2,0.4,0.6,0.8,1], "format": ".0%", "title": "Overall Survival"}},
     "color": {"field": "g", "type": "nominal", "title": "Strata", "scale": {"domain": ["Non-TRT","TRT"], "range": ["#00468B","#ED0000"]}, "legend": {"symbolType": "M -1 0 L 1 0 M 0 -0.45 L 0 0.45"}}
    },
    "layer": [
     {"data": {"name": "os_non_b"}, "mark": {"type": "line", "interpolate": "step-after", "strokeWidth": 3}},
     {"data": {"name": "os_non_b"}, "transform": [{"filter": "datum.c == 1"}], "mark": {"type": "point", "shape": "M -1 0 L 1 0 M 0 -1 L 0 1", "size": 144, "strokeWidth": 2, "filled": false, "opacity": 1}},
     {"data": {"name": "os_trt"}, "mark": {"type": "line", "interpolate": "step-after", "strokeWidth": 3}},
     {"data": {"name": "os_trt"}, "transform": [{"filter": "datum.c == 1"}], "mark": {"type": "point", "shape": "M -1 0 L 1 0 M 0 -1 L 0 1", "size": 144, "strokeWidth": 2, "filled": false, "opacity": 1}},
     {"data": {"values": [{"t": 19.85, "s": 0.9, "label": "Log-rank p<0.001"}, {"t": 19.85, "s": 0.786, "label": "HR=0.56 ( 95%CI: 0.45-0.70 )"}]}, "mark": {"type": "text", "align": "left", "baseline": "middle", "fontSize": 24.5}, "encoding": {"text": {"field": "label"}, "color": {"value": "#000"}}}
    ]
   },
   {"width": 592, "height": 59,
    "title": {"text": "Number at risk", "anchor": "start", "frame": "group", "fontSize": 27, "offset": 10},
    "data": {"name": "risk_b"},
    "mark": {"type": "text", "fontSize": 22, "baseline": "middle", "color": "#000"},
    "encoding": {
     "x": {"field": "t", "type": "quantitative", "scale": {"domain": [-2.25, 47.25], "nice": false, "zero": false}, "axis": {"values": [0,6,12,18,24,30,36,42], "title": "Follow up time(m)"}},
     "y": {"field": "g", "type": "nominal", "scale": {"type": "point", "domain": ["Non-TRT","TRT"], "padding": 0.6}, "axis": {"ticks": false, "labelExpr": "'▬'", "labelFont": "DejaVu Sans", "labelFontSize": 23, "labelFontWeight": "bold", "labelPadding": 11, "labelColor": {"condition": {"test": "datum.value === 'TRT'", "value": "#ED0000"}, "value": "#00468B"}, "title": "Strata", "titlePadding": 35}},
     "text": {"field": "n", "type": "nominal"}
    }
   }
  ], "spacing": 19, "resolve": {"scale": {"color": "independent", "x": "independent", "y": "independent"}, "legend": {"color": "independent"}, "axis": {"x": "independent", "y": "independent"}}}
 ], "spacing": 135, "resolve": {"scale": {"color": "independent", "x": "independent", "y": "independent"}, "legend": {"color": "independent"}, "axis": {"x": "independent", "y": "independent"}}},
 {"hconcat": [
  {"vconcat": [
   {"width": 592, "height": 338,
    "title": {"text": "C", "anchor": "start", "frame": "group", "dx": -182, "fontSize": 45, "offset": -26},
    "encoding": {
     "x": {"field": "t", "type": "quantitative", "scale": {"domain": [-2.25, 47.25], "nice": false, "zero": false}, "axis": {"values": [0,6,12,18,24,30,36,42], "title": "Follow up time(m)"}},
     "y": {"field": "s", "type": "quantitative", "scale": {"domain": [-0.05, 1.05], "nice": false, "zero": false}, "axis": {"values": [0,0.2,0.4,0.6,0.8,1], "format": ".0%", "title": "Progression-free Survival"}},
     "color": {"field": "g", "type": "nominal", "title": "Strata", "scale": {"domain": ["Non-TRT","TRT"], "range": ["#00468B","#ED0000"]}, "legend": {"symbolType": "M -1 0 L 1 0 M 0 -0.45 L 0 0.45"}}
    },
    "layer": [
     {"data": {"name": "pfs_non_c"}, "mark": {"type": "line", "interpolate": "step-after", "strokeWidth": 3}},
     {"data": {"name": "pfs_non_c"}, "transform": [{"filter": "datum.c == 1"}], "mark": {"type": "point", "shape": "M -1 0 L 1 0 M 0 -1 L 0 1", "size": 144, "strokeWidth": 2, "filled": false, "opacity": 1}},
     {"data": {"name": "pfs_trt"}, "mark": {"type": "line", "interpolate": "step-after", "strokeWidth": 3}},
     {"data": {"name": "pfs_trt"}, "transform": [{"filter": "datum.c == 1"}], "mark": {"type": "point", "shape": "M -1 0 L 1 0 M 0 -1 L 0 1", "size": 144, "strokeWidth": 2, "filled": false, "opacity": 1}},
     {"data": {"values": [{"t": 19.85, "s": 0.9, "label": "Log-rank p<0.001"}, {"t": 19.85, "s": 0.786, "label": "HR=0.47 ( 95%CI: 0.39-0.56 )"}]}, "mark": {"type": "text", "align": "left", "baseline": "middle", "fontSize": 24.5}, "encoding": {"text": {"field": "label"}, "color": {"value": "#000"}}}
    ]
   },
   {"width": 592, "height": 59,
    "title": {"text": "Number at risk", "anchor": "start", "frame": "group", "fontSize": 27, "offset": 10},
    "data": {"name": "risk_c"},
    "mark": {"type": "text", "fontSize": 22, "baseline": "middle", "color": "#000"},
    "encoding": {
     "x": {"field": "t", "type": "quantitative", "scale": {"domain": [-2.25, 47.25], "nice": false, "zero": false}, "axis": {"values": [0,6,12,18,24,30,36,42], "title": "Follow up time(m)"}},
     "y": {"field": "g", "type": "nominal", "scale": {"type": "point", "domain": ["Non-TRT","TRT"], "padding": 0.6}, "axis": {"ticks": false, "labelExpr": "'▬'", "labelFont": "DejaVu Sans", "labelFontSize": 23, "labelFontWeight": "bold", "labelPadding": 11, "labelColor": {"condition": {"test": "datum.value === 'TRT'", "value": "#ED0000"}, "value": "#00468B"}, "title": "Strata", "titlePadding": 35}},
     "text": {"field": "n", "type": "nominal"}
    }
   }
  ], "spacing": 19, "resolve": {"scale": {"color": "independent", "x": "independent", "y": "independent"}, "legend": {"color": "independent"}, "axis": {"x": "independent", "y": "independent"}}},
  {"vconcat": [
   {"width": 592, "height": 338,
    "title": {"text": "D", "anchor": "start", "frame": "group", "dx": -219, "fontSize": 45, "offset": -26},
    "encoding": {
     "x": {"field": "t", "type": "quantitative", "scale": {"domain": [-2.25, 47.25], "nice": false, "zero": false}, "axis": {"values": [0,6,12,18,24,30,36,42], "title": "Follow up time(m)"}},
     "y": {"field": "s", "type": "quantitative", "scale": {"domain": [-0.05, 1.05], "nice": false, "zero": false}, "axis": {"values": [0,0.2,0.4,0.6,0.8,1], "format": ".0%", "title": "Overall Survival"}},
     "color": {"field": "g", "type": "nominal", "title": "Strata", "scale": {"domain": ["Non-TRT","TRT"], "range": ["#00468B","#ED0000"]}, "legend": {"symbolType": "M -1 0 L 1 0 M 0 -0.45 L 0 0.45"}}
    },
    "layer": [
     {"data": {"name": "os_non_d"}, "mark": {"type": "line", "interpolate": "step-after", "strokeWidth": 3}},
     {"data": {"name": "os_non_d"}, "transform": [{"filter": "datum.c == 1"}], "mark": {"type": "point", "shape": "M -1 0 L 1 0 M 0 -1 L 0 1", "size": 144, "strokeWidth": 2, "filled": false, "opacity": 1}},
     {"data": {"name": "os_trt"}, "mark": {"type": "line", "interpolate": "step-after", "strokeWidth": 3}},
     {"data": {"name": "os_trt"}, "transform": [{"filter": "datum.c == 1"}], "mark": {"type": "point", "shape": "M -1 0 L 1 0 M 0 -1 L 0 1", "size": 144, "strokeWidth": 2, "filled": false, "opacity": 1}},
     {"data": {"values": [{"t": 19.85, "s": 0.9, "label": "Log-rank p<0.001"}, {"t": 19.85, "s": 0.786, "label": "HR=0.56 ( 95%CI: 0.44-0.71 )"}]}, "mark": {"type": "text", "align": "left", "baseline": "middle", "fontSize": 24.5}, "encoding": {"text": {"field": "label"}, "color": {"value": "#000"}}}
    ]
   },
   {"width": 592, "height": 59,
    "title": {"text": "Number at risk", "anchor": "start", "frame": "group", "fontSize": 27, "offset": 10},
    "data": {"name": "risk_d"},
    "mark": {"type": "text", "fontSize": 22, "baseline": "middle", "color": "#000"},
    "encoding": {
     "x": {"field": "t", "type": "quantitative", "scale": {"domain": [-2.25, 47.25], "nice": false, "zero": false}, "axis": {"values": [0,6,12,18,24,30,36,42], "title": "Follow up time(m)"}},
     "y": {"field": "g", "type": "nominal", "scale": {"type": "point", "domain": ["Non-TRT","TRT"], "padding": 0.6}, "axis": {"ticks": false, "labelExpr": "'▬'", "labelFont": "DejaVu Sans", "labelFontSize": 23, "labelFontWeight": "bold", "labelPadding": 11, "labelColor": {"condition": {"test": "datum.value === 'TRT'", "value": "#ED0000"}, "value": "#00468B"}, "title": "Strata", "titlePadding": 35}},
     "text": {"field": "n", "type": "nominal"}
    }
   }
  ], "spacing": 19, "resolve": {"scale": {"color": "independent", "x": "independent", "y": "independent"}, "legend": {"color": "independent"}, "axis": {"x": "independent", "y": "independent"}}}
 ], "spacing": 135, "resolve": {"scale": {"color": "independent", "x": "independent", "y": "independent"}, "legend": {"color": "independent"}, "axis": {"x": "independent", "y": "independent"}}}
]
}
